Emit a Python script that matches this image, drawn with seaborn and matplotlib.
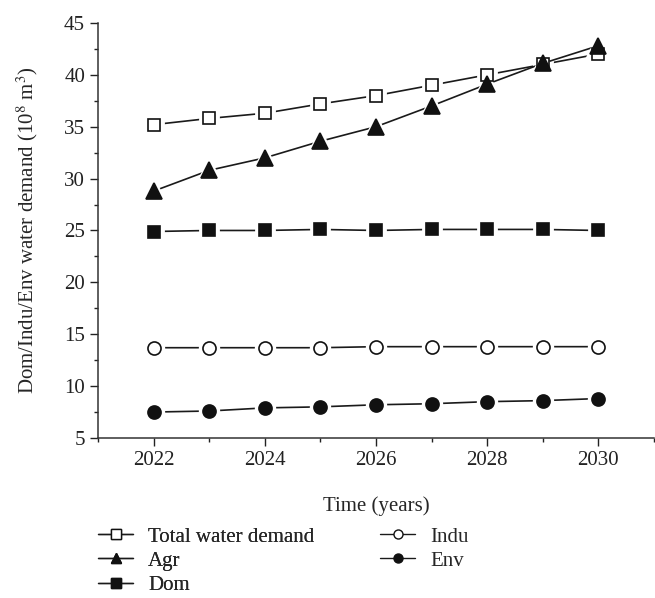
import matplotlib
matplotlib.use("Agg")
import matplotlib.pyplot as plt
import seaborn as sns
import pandas as pd
from matplotlib.lines import Line2D
from matplotlib.ticker import MultipleLocator

years = [2022, 2023, 2024, 2025, 2026, 2027, 2028, 2029, 2030]
total = [35.2, 35.8, 36.3, 37.2, 38.0, 39.0, 40.0, 41.0, 42.0]
agr = [28.8, 30.8, 32.0, 33.6, 35.0, 37.0, 39.1, 41.1, 42.8]
dom = [24.9, 25.0, 25.0, 25.1, 25.0, 25.1, 25.1, 25.1, 25.0]
indu = [13.7, 13.7, 13.7, 13.7, 13.8, 13.8, 13.8, 13.8, 13.8]
env = [7.5, 7.6, 7.9, 8.0, 8.2, 8.3, 8.5, 8.6, 8.8]
labels = ["Total water demand", "Agr", "Dom", "Indu", "Env"]

sns.set_style("ticks")
plt.rcParams["font.family"] = ["Liberation Serif", "DejaVu Serif"]
plt.rcParams["mathtext.fontset"] = "stix"

FS = 15
fig = plt.figure(figsize=(6.55, 5.98), dpi=100)
ax = fig.add_axes([0.150, 0.2676, 0.848, 0.694])

dark = "#111111"
styles = [
    (total, "s", "white", 8.6),
    (agr, "^", dark, 11.5),
    (dom, "s", dark, 8.6),
    (indu, "o", "white", 9.4),
    (env, "o", dark, 9.4),
]

for vals, m, fc, ms in styles:
    df = pd.DataFrame({"year": years, "val": vals})
    # line with white halo markers for the gap effect
    sns.lineplot(data=df, x="year", y="val", ax=ax, color="#1a1a1a", lw=1.2,
                 marker=m, markersize=ms + 4, markerfacecolor="white",
                 markeredgecolor="white", markeredgewidth=2, zorder=2)
    sns.lineplot(data=df, x="year", y="val", ax=ax, linestyle="none",
                 marker=m, markersize=ms, markerfacecolor=fc,
                 markeredgecolor=dark, markeredgewidth=1.2, zorder=3)

ax.set_xlim(2021, 2031)
ax.set_ylim(5, 45)
ax.set_xticks([2022, 2024, 2026, 2028, 2030])
ax.xaxis.set_minor_locator(MultipleLocator(1))
ax.set_yticks([5, 10, 15, 20, 25, 30, 35, 40, 45])
ax.yaxis.set_minor_locator(MultipleLocator(2.5))
ax.tick_params(axis="both", which="major", direction="out", length=5.5, width=1,
               labelsize=FS, colors="#222222", pad=4)
ax.tick_params(axis="both", which="minor", direction="out", length=3, width=1,
               colors="#222222")
for s in ["left", "bottom"]:
    ax.spines[s].set_linewidth(1.1)
    ax.spines[s].set_color("#333333")
sns.despine(ax=ax)

ax.set_xlabel("Time (years)", fontsize=FS, labelpad=18.5)
ax.set_ylabel("Dom/Indu/Env water demand (10$^{8}$ m$^{3}$)", fontsize=FS,
              labelpad=17)

handles = []
for vals, m, fc, ms in styles:
    handles.append(Line2D([], [], color="#1a1a1a", lw=1, marker=m,
                          markersize=6.5, markerfacecolor=fc,
                          markeredgecolor=dark, markeredgewidth=1))

common = dict(loc="upper left", frameon=False, fontsize=FS, handlelength=1.7,
              handletextpad=0.7, labelspacing=0.22, borderpad=0,
              borderaxespad=0)
leg1 = fig.legend(handles[:3], labels[:3], bbox_to_anchor=(98 / 655, 1 - 527 / 598),
                  **common)
fig.add_artist(leg1)
leg2 = fig.legend(handles[3:], labels[3:], bbox_to_anchor=(380 / 655, 1 - 527 / 598),
                  **common)

fig.savefig("out.png", dpi=100)
